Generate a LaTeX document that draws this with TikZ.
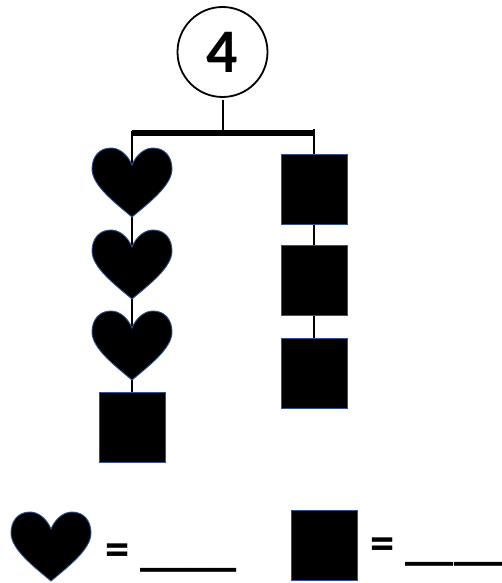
\documentclass[tikz,border=0pt]{standalone}
\usepackage{fontspec}
\setmainfont{Carlito}
\usetikzlibrary{backgrounds}
\definecolor{edgeblue}{RGB}{47,82,143}
\tikzset{
  x=1pt,y=-1pt,
  heartbox/.style={inner sep=0pt,minimum width=80pt,minimum height=69pt},
  sqbox/.style={draw=edgeblue,fill=black,line width=0.9pt,inner sep=0pt,minimum width=66pt,minimum height=70pt},
  conn/.style={black,line width=2pt},
  bar/.style={black,line width=5.5pt},
  eqtext/.style={inner sep=0pt,anchor=base west,font=\fontsize{48.5}{49}\selectfont\bfseries},
  heartshape/.pic={
    \path[fill=black,draw=edgeblue,line width=0.9pt]
      (0,17) .. controls (-5,5) and (-14,0) .. (-21,0)
      .. controls (-33,0) and (-40,9) .. (-40,21)
      .. controls (-40,37) and (-18,54) .. (0,69)
      .. controls (18,54) and (40,37) .. (40,21)
      .. controls (40,9) and (33,0) .. (21,0)
      .. controls (14,0) and (5,5) .. (0,17) -- cycle;
  }
}
\begin{document}
\begin{tikzpicture}
\useasboundingbox (0,0) rectangle (502,583);
% top
\node[draw=black,line width=1.8pt,circle,minimum size=90pt,inner sep=0pt,font=\fontsize{62}{62}\selectfont\bfseries] (top) at (222.5,52) {4};
\coordinate (barL) at (132,133);
\coordinate (barM) at (223,133);
\coordinate (barR) at (314,133);
\coordinate (topfoot) at (223,100);
% hearts and squares
\foreach \n/\y in {h1/148,h2/230,h3/311}{
  \node[heartbox] (\n) at (132,\y+34.5) {};
  \pic at (132,\y) {heartshape};
}
\node[sqbox] (s4) at (132.5,427) {};
\node[sqbox] (s1) at (314.5,189) {};
\node[sqbox] (s2) at (314.5,280.5) {};
\node[sqbox] (s3) at (314.5,373) {};
% legend
\node[heartbox] (lh) at (51,546) {};
\pic at (51,512) {heartshape};
\node[sqbox] (ls) at (324.5,545.5) {};
\node[eqtext] (eq1) at (105,565) {= \_\_\_\_};
\node[eqtext] (eq2) at (370.5,559.5) {= \_\_\_\_};
% connectors
\begin{scope}[on background layer]
\draw[bar] (barL) -- (barR);
\draw[conn] (topfoot) -- (barM);
\draw[conn] (barL|-0,131) -- (h1.center);
\draw[conn] (h1.center) -- (h2.center);
\draw[conn] (h2.center) -- (h3.center);
\draw[conn] (h3.center) -- (s4.center -| barL);
\draw[conn] (barR|-0,129) -- (s1.center -| barR);
\draw[conn] (s1.center -| barR) -- (s2.center -| barR);
\draw[conn] (s2.center -| barR) -- (s3.center -| barR);
\end{scope}
\end{tikzpicture}
\end{document}
